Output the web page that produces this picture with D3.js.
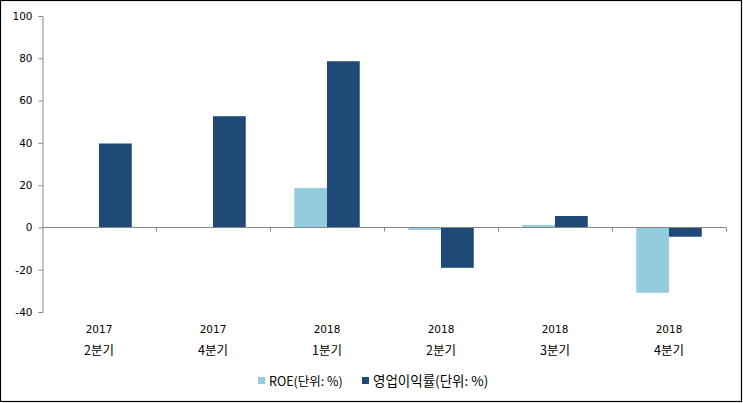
<!DOCTYPE html>
<html><head><meta charset="utf-8">
<script src="https://cdn.jsdelivr.net/npm/d3@7"></script>
<style>
html,body{margin:0;padding:0;background:#fff;}
svg{display:block;}
text{fill:#000;}
</style></head><body>
<script>
const years = ["2017","2017","2018","2018","2018","2018"];
const quarters = ["2분기","4분기","1분기","2분기","3분기","4분기"];
const roe = [0, 0, 18.6, -1.2, 1.2, -30.9];
const opMargin = [39.7, 52.6, 78.6, -19.1, 5.4, -4.4];
const seriesNames = ["ROE(단위: %)", "영업이익률(단위: %)"];
const colors = ["#93CDDD", "#1F4A78"];
const yTicks = [-40,-20,0,20,40,60,80,100];

const latin = "'DejaVu Sans',sans-serif";
const kor = "'Noto Sans CJK KR','Noto Sans',sans-serif";

const W = 743, H = 403;
const svg = d3.select("body").append("svg").attr("width", W).attr("height", H);
svg.append("rect").attr("x",0.5).attr("y",0.5).attr("width",W-2).attr("height",H-2)
  .attr("fill","#fff").attr("stroke","#000").attr("stroke-width",1.2);

const x0 = 42, x1 = 726;
const y = d3.scaleLinear().domain([-40,100]).range([312,16]);
const idx = d3.range(years.length);
const x = d3.scaleBand().domain(idx).range([x0,x1]).paddingInner(0).paddingOuter(0);
const inner = d3.scaleBand().domain([0,1]).range([0, x.bandwidth()]).paddingInner(0).paddingOuter(0.74);

const series = [roe, opMargin];
series.forEach((vals, s) => {
  svg.append("g").selectAll("rect").data(idx).join("rect")
    .attr("x", i => x(i) + inner(s))
    .attr("width", inner.bandwidth())
    .attr("y", i => y(Math.max(0, vals[i])))
    .attr("height", i => Math.abs(y(vals[i]) - y(0)))
    .attr("fill", colors[s]);
});

const axisColor = "#868686";
// y axis
const ya = svg.append("g").attr("transform", `translate(${x0 + 0.5},0)`)
  .call(d3.axisLeft(y).tickValues(yTicks).tickSize(4).tickPadding(6).tickFormat(d => String(d)));
ya.select(".domain").attr("stroke", axisColor);
ya.selectAll(".tick line").attr("stroke", axisColor);
ya.selectAll("text").style("font-family", latin).style("font-size","10.5px").attr("fill","#000");

// zero line
const zy = Math.round(y(0)) + 0.5;
svg.append("line").attr("x1", x0).attr("x2", x1).attr("y1", zy).attr("y2", zy)
  .attr("stroke", axisColor).attr("stroke-width", 1);
svg.append("g").selectAll("line").data(d3.range(1, years.length + 1)).join("line")
  .attr("x1", i => Math.round(x0 + i * x.bandwidth()) + 0.5)
  .attr("x2", i => Math.round(x0 + i * x.bandwidth()) + 0.5)
  .attr("y1", zy).attr("y2", zy + 4).attr("stroke", axisColor);

// category labels
const lab = svg.append("g");
lab.selectAll("text.yr").data(idx).join("text").attr("class","yr")
  .attr("x", i => x(i) + x.bandwidth()/2).attr("y", 333)
  .attr("text-anchor","middle")
  .style("font-family", latin).style("font-size","10.5px")
  .text(i => years[i]);
lab.selectAll("text.q").data(idx).join("text").attr("class","q")
  .attr("x", i => x(i) + x.bandwidth()/2).attr("y", 355)
  .attr("text-anchor","middle")
  .style("font-family", kor).style("font-size","12.5px")
  .text(i => quarters[i]);

// legend
const legX = [258, 362];
seriesNames.forEach((n, s) => {
  svg.append("rect").attr("x", legX[s]).attr("y", 377).attr("width", 7).attr("height", 7).attr("fill", colors[s]);
  svg.append("text").attr("x", legX[s] + 11).attr("y", 386)
    .style("font-family", kor).style("font-size", s === 0 ? "12.5px" : "13.5px").text(n);
});
</script>
</body></html>
